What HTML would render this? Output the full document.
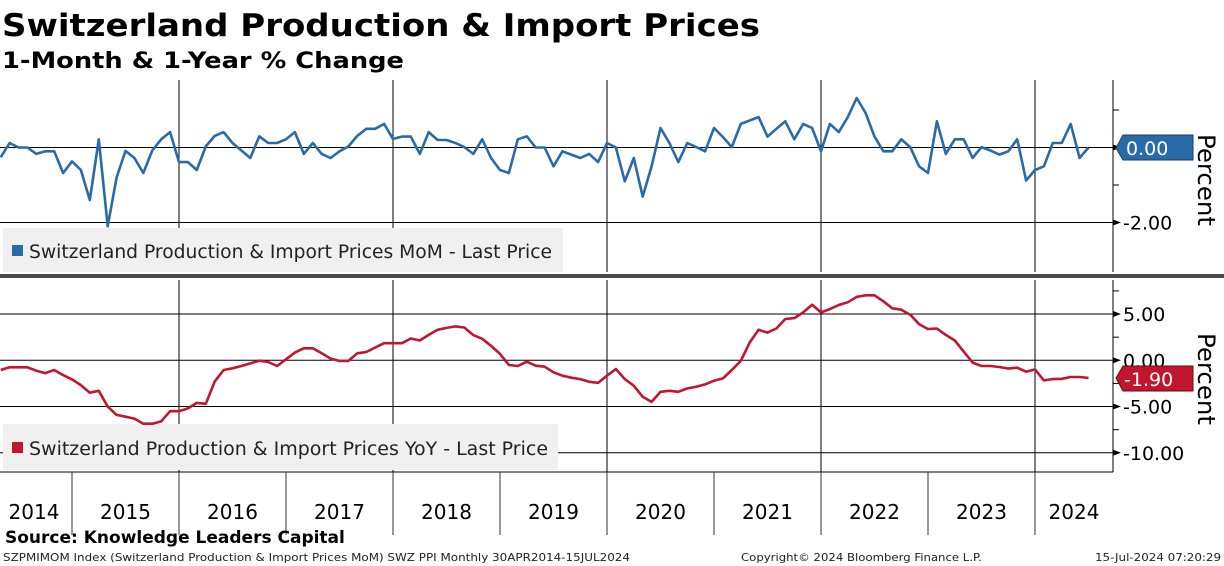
<!DOCTYPE html>
<html><head><meta charset="utf-8">
<style>
html,body{margin:0;padding:0;background:#fff;}
svg{display:block;}
text{font-family:"DejaVu Sans","Liberation Sans",sans-serif;}
</style></head>
<body>
<svg id="chart" width="1224" height="566" viewBox="0 0 1224 566" xmlns="http://www.w3.org/2000/svg">
  <text x="2" y="36" font-size="31" font-weight="bold" textLength="758" lengthAdjust="spacingAndGlyphs">Switzerland Production &amp; Import Prices</text>
  <text x="2" y="68" font-size="22" font-weight="bold" textLength="402" lengthAdjust="spacingAndGlyphs">1-Month &amp; 1-Year % Change</text>
  <g id="grid"></g>
  <rect x="3" y="228" width="560" height="44" fill="#f0f0f0"/>
  <rect x="12" y="245" width="11" height="11" fill="#2a6aa8"/>
  <text x="29" y="258" font-size="18.5" fill="#222" textLength="523" lengthAdjust="spacingAndGlyphs">Switzerland Production &amp; Import Prices MoM - Last Price</text>
  <rect x="3" y="424" width="555" height="46" fill="#f0f0f0"/>
  <rect x="12" y="442" width="11" height="11" fill="#c0172f"/>
  <text x="29" y="455" font-size="18.5" fill="#222" textLength="519" lengthAdjust="spacingAndGlyphs">Switzerland Production &amp; Import Prices YoY - Last Price</text>
  <g id="series"></g>
  <rect x="0" y="274" width="1224" height="4" fill="#4a4a4a"/>
  <line x1="1113" y1="80" x2="1113" y2="272" stroke="#000"/>
  <line x1="1113" y1="280" x2="1113" y2="472" stroke="#000"/>
  <line x1="0" y1="472" x2="1113" y2="472" stroke="#000"/>
  <g id="axes"></g>
  <text transform="translate(1198,134) rotate(90)" font-size="24" textLength="92" lengthAdjust="spacingAndGlyphs">Percent</text>
  <text transform="translate(1198,333) rotate(90)" font-size="24" textLength="92" lengthAdjust="spacingAndGlyphs">Percent</text>
  <path d="M1116,148 L1123,135 L1193,135 L1193,160 L1123,160 Z" fill="#2a6aa8" stroke="#1a3f66"/>
  <text x="1126" y="155" font-size="19" fill="#fff">0.00</text>
  <path d="M1116,378 L1123,366 L1193,366 L1193,391 L1123,391 Z" fill="#c0172f" stroke="#6a0a18"/>
  <text x="1124" y="386" font-size="19" fill="#fff">-1.90</text>
  <text x="5" y="543" font-size="17" font-weight="bold">Source: Knowledge Leaders Capital</text>
  <text x="3" y="561" font-size="11" fill="#222" textLength="627" lengthAdjust="spacingAndGlyphs">SZPMIMOM Index (Switzerland Production &amp; Import Prices MoM) SWZ PPI  Monthly 30APR2014-15JUL2024</text>
  <text x="741" y="561" font-size="11" fill="#222" textLength="241" lengthAdjust="spacingAndGlyphs">Copyright© 2024 Bloomberg Finance L.P.</text>
  <text x="1095" y="561" font-size="11" fill="#222" textLength="126" lengthAdjust="spacingAndGlyphs">15-Jul-2024 07:20:29</text>
</svg>
<script>
const years = [2014,2015,2016,2017,2018,2019,2020,2021,2022,2023,2024];
const momValues = [-0.26,0.12,0,0,-0.17,-0.1,-0.1,-0.68,-0.37,-0.6,-1.4,0.22,-2.1,-0.8,-0.09,-0.28,-0.68,-0.08,0.22,0.41,
 -0.39,-0.39,-0.6,0.03,0.31,0.41,0.12,-0.08,-0.28,0.3,0.12,0.12,
 0.22,0.41,-0.17,0.12,-0.17,-0.28,-0.1,0.03,0.31,0.5,0.5,0.63,
 0.23,0.29,0.29,-0.17,0.41,0.2,0.2,0.12,0.01,-0.17,0.22,-0.28,
 -0.6,-0.68,0.22,0.3,0,0,-0.5,-0.1,-0.19,-0.28,-0.17,-0.39,
 0.12,0,-0.9,-0.28,-1.31,-0.5,0.52,0.12,-0.39,0.12,0.01,-0.1,
 0.52,0.28,0.01,0.63,0.72,0.81,0.29,0.5,0.7,0.22,0.63,0.52,
 -0.1,0.63,0.41,0.81,1.32,0.92,0.29,-0.1,-0.1,0.22,0.01,-0.5,
 -0.68,0.7,-0.17,0.22,0.22,-0.28,0.01,-0.08,-0.19,-0.1,0.22,-0.88,
 -0.6,-0.5,0.12,0.12,0.63,-0.28,0];
const yoyValues = [-1.05,-0.76,-0.76,-0.76,-1.12,-1.38,-1.05,-1.6,-2.07,-2.68,-3.5,-3.3,-5.0,-5.9,-6.1,-6.3,-6.85,-6.85,-6.6,-5.5,
 -5.5,-5.2,-4.6,-4.7,-2.3,-1.05,-0.87,-0.62,-0.33,-0.04,-0.18,-0.62,
 0.11,0.83,1.3,1.3,0.76,0.18,-0.07,-0.07,0.76,0.9,1.38,1.85,
 1.85,1.85,2.36,2.14,2.75,3.3,3.5,3.66,3.55,2.72,2.32,1.56,
 0.69,-0.5,-0.62,-0.15,-0.58,-0.69,-1.3,-1.67,-1.88,-2.03,-2.32,-2.43,
 -1.67,-0.94,-2.03,-2.75,-3.95,-4.5,-3.4,-3.3,-3.4,-3.04,-2.86,-2.6,
 -2.2,-1.96,-1.05,-0.07,1.92,3.3,3.0,3.44,4.46,4.56,5.18,6.0,
 5.18,5.54,5.98,6.27,6.85,7.03,7.03,6.38,5.62,5.47,4.93,3.91,
 3.37,3.44,2.75,2.14,0.94,-0.25,-0.62,-0.62,-0.72,-0.9,-0.8,-1.23,
 -0.98,-2.17,-2.03,-2.0,-1.81,-1.81,-1.9];
const momTicks = [0,-2];
const momTickLabels = ["","-2.00"];
const yoyTicks = [5,0,-5,-10];
const yoyTickLabels = ["5.00","0.00","-5.00","-10.00"];

const NS="http://www.w3.org/2000/svg";
const yearW=107, x2014=-35, startMonth=4;
function xMonth(i){return x2014+(startMonth+i)*yearW/12;}
function xYear(y){return x2014+(y-2014)*yearW;}
function yMom(v){return 147.5-v*37.5;}
function yYoy(v){return 360.3-v*9.25;}
function mk(tag,attrs,parent){const e=document.createElementNS(NS,tag);for(const k in attrs)e.setAttribute(k,attrs[k]);parent.appendChild(e);return e;}
const grid=document.getElementById('grid'), axes=document.getElementById('axes'), series=document.getElementById('series');

years.forEach((y,i)=>{
  const x=xYear(y);
  if(i>0){
    if(y%2===0){
      const g1=mk('line',{x1:x,y1:80,x2:x,y2:272,stroke:'#000'},grid);
      
      
      const g2=mk('line',{x1:x,y1:280,x2:x,y2:472,stroke:'#000'},grid);
      
      
    }
    const t=mk('line',{x1:x,y1:472,x2:x,y2:535,stroke:'#333'},axes);
    
    
  }
  let cx=x+yearW/2;
  if(i===0) cx=34;
  if(i===years.length-1) cx=(x+1113)/2;
  const lbl=mk('text',{x:cx,y:519,'font-size':20,'text-anchor':'middle'},axes);
  lbl.textContent=String(y);
  
  
});
momTicks.forEach((v,i)=>{
  const y=yMom(v);
  const g=mk('line',{x1:0,y1:y,x2:1113,y2:y,stroke:'#000'},grid);
  
  
  const t=mk('path',{d:`M1113,${y-3} L1121,${y} L1113,${y+3}Z`,fill:'#000'},axes);
  
  
  if(momTickLabels[i]){
    const l=mk('text',{x:1123,y:y+7,'font-size':19},axes);
    l.textContent=momTickLabels[i];
    
    
  }
});
[1,-1].forEach(v=>{const y=yMom(v);const m=mk('line',{x1:1113,y1:y,x2:1119,y2:y,stroke:'#000'},axes);
  
  });
yoyTicks.forEach((v,i)=>{
  const y=yYoy(v);
  const g=mk('line',{x1:0,y1:y,x2:1113,y2:y,stroke:'#000'},grid);
  
  
  const t=mk('path',{d:`M1113,${y-3} L1121,${y} L1113,${y+3}Z`,fill:'#000'},axes);
  
  
  const l=mk('text',{x:1123,y:y+7,'font-size':19},axes);
  l.textContent=yoyTickLabels[i];
  
  
});
[7.5,2.5,-2.5,-7.5].forEach(v=>{const y=yYoy(v);const m=mk('line',{x1:1113,y1:y,x2:1119,y2:y,stroke:'#000'},axes);
  
  });
const momLine=mk('polyline',{points:momValues.map((v,i)=>xMonth(i).toFixed(1)+','+yMom(v).toFixed(1)).join(' '),fill:'none',stroke:'#2a6aa8','stroke-width':2.6,'stroke-linejoin':'round'},series);


const yoyLine=mk('polyline',{points:yoyValues.map((v,i)=>xMonth(i).toFixed(1)+','+yYoy(v).toFixed(1)).join(' '),fill:'none',stroke:'#c0172f','stroke-width':2.6,'stroke-linejoin':'round'},series);


</script>
</body></html>
